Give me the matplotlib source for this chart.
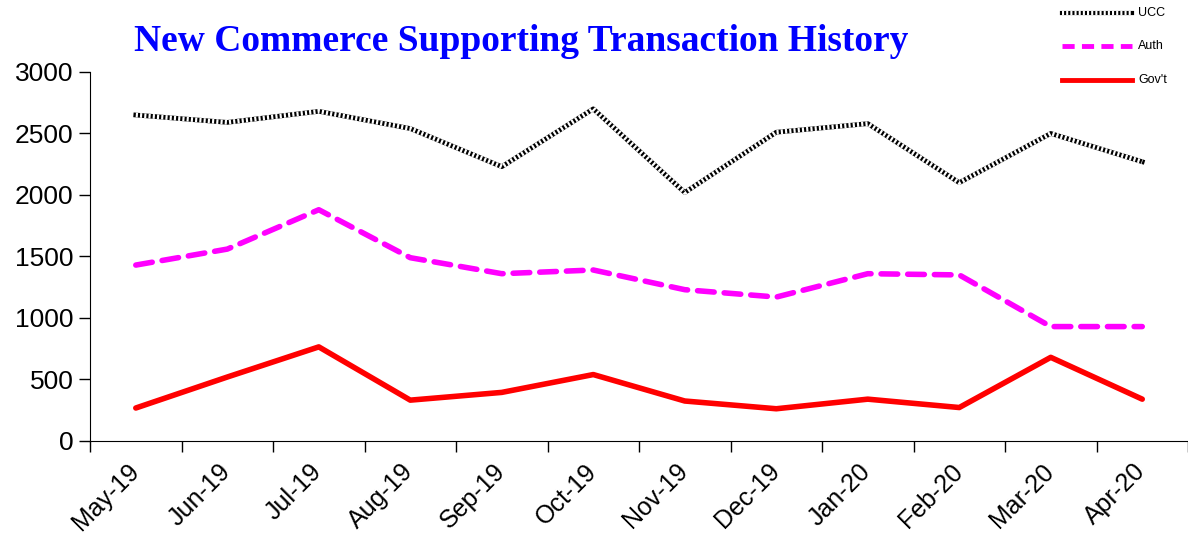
import matplotlib.pyplot as plt
import matplotlib.transforms as mtransforms
import numpy as np

months = ['May-19', 'Jun-19', 'Jul-19', 'Aug-19', 'Sep-19', 'Oct-19',
          'Nov-19', 'Dec-19', 'Jan-20', 'Feb-20', 'Mar-20', 'Apr-20']
ucc = [2650, 2590, 2680, 2540, 2230, 2700, 2020, 2510, 2580, 2100, 2500, 2270]
auth = [1430, 1560, 1880, 1490, 1360, 1390, 1230, 1170, 1360, 1350, 930, 930]
govt = [268, 520, 765, 332, 395, 540, 325, 262, 340, 272, 680, 340]

plt.rcParams['font.family'] = ['Liberation Sans', 'DejaVu Sans']

fig = plt.figure(figsize=(11.88, 5.37), dpi=100)
ax = fig.add_axes([0.0758, 0.1788, 0.9242, 0.6872])
x = np.arange(len(months))

############### lines ################
# UCC: checkered look = black line broken by fine white stripes
ax.plot(x, ucc, color='black', linewidth=3.4, zorder=3)
ax.plot(x, ucc, color='white', linewidth=3.4, linestyle=(0, (0.45, 0.45)), zorder=4)
ax.plot(x, auth, color='#FF00FF', linewidth=4, linestyle=(0, (3, 1.8)),
        dash_capstyle='round', zorder=3)
ax.plot(x, govt, color='#FF0000', linewidth=4, solid_capstyle='round', zorder=3)

############### axes ################
ax.set_xlim(-0.5, 11.5)
ax.set_ylim(0, 3000)
ax.set_yticks(range(0, 3001, 500))
ax.set_xticks(x)
ax.set_xticks(np.arange(-0.5, 12, 1), minor=True)
ax.set_xticklabels(months, rotation=45, ha='right', rotation_mode='anchor')
ax.tick_params(axis='x', which='major', length=0, pad=13, labelsize=18)
ax.tick_params(axis='x', which='minor', length=8, direction='out', width=1)
ax.tick_params(axis='y', length=8, direction='out', width=1, labelsize=19, pad=4)
shift = mtransforms.ScaledTranslation(-9 / 100, 0, fig.dpi_scale_trans)
for lbl in ax.get_xticklabels():
    lbl.set_transform(lbl.get_transform() + shift)
for s in ['top', 'right']:
    ax.spines[s].set_visible(False)

fig.text(0.439, 0.922, 'New Commerce Supporting Transaction History',
         ha='center', va='center', fontsize=27, fontweight='bold',
         color='#0000FF', family='Liberation Serif')

############### legend ################
lax = fig.add_axes([0.88, 0.82, 0.12, 0.18])
lax.set_xlim(0, 1)
lax.set_ylim(0, 1)
lax.axis('off')
ly = [0.87, 0.52, 0.17]
x0, x1 = 0.116, 0.607
lax.plot([x0, x1], [ly[0], ly[0]], color='black', linewidth=3)
lax.plot([x0, x1], [ly[0], ly[0]], color='white', linewidth=3, linestyle=(0, (0.5, 0.5)))
lax.plot([x0, x1], [ly[1], ly[1]], color='#FF00FF', linewidth=3.5, linestyle=(0, (2.5, 1.5)))
lax.plot([x0, x1], [ly[2], ly[2]], color='#FF0000', linewidth=3.5)
for yy, lab in zip(ly, ['UCC', 'Auth', "Gov't"]):
    lax.text(0.65, yy, lab, va='center', ha='left', fontsize=9)

fig.savefig('out.png', dpi=100)
